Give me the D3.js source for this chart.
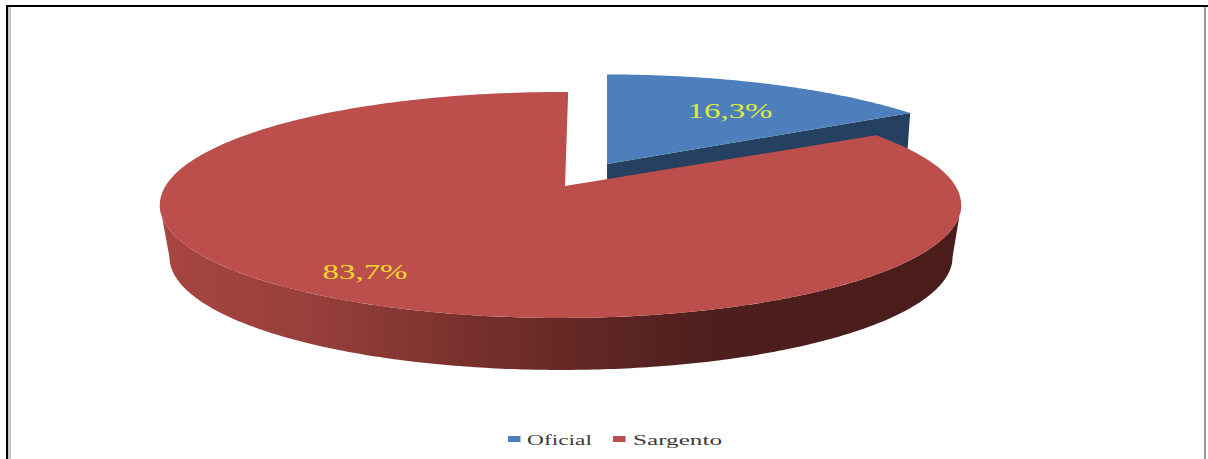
<!DOCTYPE html>
<html>
<head>
<meta charset="utf-8">
<script src="https://cdn.jsdelivr.net/npm/d3@7"></script>
<style>
  html, body { margin: 0; padding: 0; background: #fff; }
  svg { display: block; }
  text { font-family: "Liberation Serif", serif; }
</style>
</head>
<body>
<svg id="chart" width="1208" height="459"></svg>
<script>
const categories = ["Oficial", "Sargento"];
const shares = [16.3, 83.7];
const labels = ["16,3%", "83,7%"];
const topColors = ["#4c7fbc", "#bc4f4c"];
const labelColors = ["#dfe942", "#f3d92c"];
const blueWallColor = "#254061";

const W = 1208, H = 459;
const svg = d3.select("#chart");
const defs = svg.append("defs");

// Side wall of the large slice darkens from left to right
const grad = defs.append("linearGradient").attr("id", "wall").attr("x1", 0).attr("x2", 1).attr("y1", 0).attr("y2", 0);
[[0, "#a8453f"], [0.18, "#98403b"], [0.36, "#7c322e"], [0.55, "#5f2623"], [0.7, "#4c1e1c"], [1, "#4a1c1a"]]
  .forEach(([o, c]) => grad.append("stop").attr("offset", o).attr("stop-color", c));

// Frame: black top and left rules, grey inner shade and right rule
svg.append("rect").attr("width", W).attr("height", H).attr("fill", "#fff");
svg.append("rect").attr("x", 6).attr("y", 5).attr("width", W - 6).attr("height", 2).attr("fill", "#000");
svg.append("rect").attr("x", 6).attr("y", 5).attr("width", 2).attr("height", H - 5).attr("fill", "#000");
svg.append("rect").attr("x", 8).attr("y", 7).attr("width", 3).attr("height", H - 7).attr("fill", "#c8c8c8");
svg.append("rect").attr("x", 1204).attr("y", 7).attr("width", 2).attr("height", H - 7).attr("fill", "#999");

// Pie angles come from the values; the start angle is the chart's rotation
const startAngle = 1.3 * Math.PI / 180;
const arcs = d3.pie().sort(null).startAngle(startAngle).endAngle(startAngle + 2 * Math.PI)(shares);

// Perspective projection of a unit disc: far side is foreshortened by k
const projector = ({ cx, cy, rx, ry, k }) => (a) => {
  const w = 1 + k * Math.cos(a);
  return [cx + rx * Math.sin(a) / w, cy - ry * Math.cos(a) / w];
};
const blueView = { cx: 607, cy: 164, rx: 396, ry: 109.5, k: 0.223 };
const redView = { cx: 560.5, cy: 186, rx: 395, ry: 109.8, k: 0.168 };
const redLowView = { cx: 561, cy: 238, rx: 386, ry: 109.8, k: 0.168 };
const blueApex = [607, 164], redApex = [565, 186];

const line = d3.line();
const sample = (p, a0, a1) => d3.range(0, 241).map(i => p(a0 + (a1 - a0) * i / 240));

const blue = arcs[0], red = arcs[1];
const pBlue = projector(blueView), pRed = projector(redView), pRedLow = projector(redLowView);
const blueA0 = blue.startAngle - startAngle, blueA1 = blue.endAngle - startAngle;

// Blue wall first: the red slice overlaps most of it
const blueEnd = pBlue(blueA1);
svg.append("path")
  .attr("d", line([blueApex, blueEnd, [blueEnd[0] - 3, blueEnd[1] + 42], [blueApex[0], blueApex[1] + 42]]) + "Z")
  .attr("fill", blueWallColor);
svg.append("path")
  .attr("d", line([blueApex, ...sample(pBlue, blueA0, blueA1)]) + "Z")
  .attr("fill", topColors[0]);

// Red wall runs between the rim's two horizontal extremes
const sideAngle = Math.acos(-redView.k);
const frontRim = sample(pRed, sideAngle, 2 * Math.PI - sideAngle);
const frontLow = sample(pRedLow, sideAngle, 2 * Math.PI - sideAngle);
svg.append("path")
  .attr("d", line([...frontRim, ...frontLow.reverse()]) + "Z")
  .attr("fill", "url(#wall)");

svg.append("path")
  .attr("d", line([redApex, ...sample(pRed, red.startAngle, red.endAngle)]) + "Z")
  .attr("fill", topColors[1]);

// Value labels
const labelPos = [[730, 118], [365, 279]];
labels.forEach((t, i) => {
  svg.append("text")
    .attr("x", labelPos[i][0]).attr("y", labelPos[i][1])
    .attr("text-anchor", "middle")
    .attr("font-size", 22)
    .attr("textLength", 85).attr("lengthAdjust", "spacingAndGlyphs")
    .attr("fill", labelColors[i])
    .text(t);
});

// Legend
const legendX = d3.scaleOrdinal().domain(categories).range([508, 613]);
const legendTextX = [527, 633];
const legendTextLen = [65, 89];
categories.forEach((c, i) => {
  svg.append("rect")
    .attr("x", legendX(c)).attr("y", 436).attr("width", 12.5).attr("height", 6)
    .attr("fill", topColors[i]);
  svg.append("text")
    .attr("x", legendTextX[i]).attr("y", 445)
    .attr("font-size", 15)
    .attr("textLength", legendTextLen[i]).attr("lengthAdjust", "spacingAndGlyphs")
    .attr("fill", "#3a3a3a")
    .text(c);
});
</script>
</body>
</html>
